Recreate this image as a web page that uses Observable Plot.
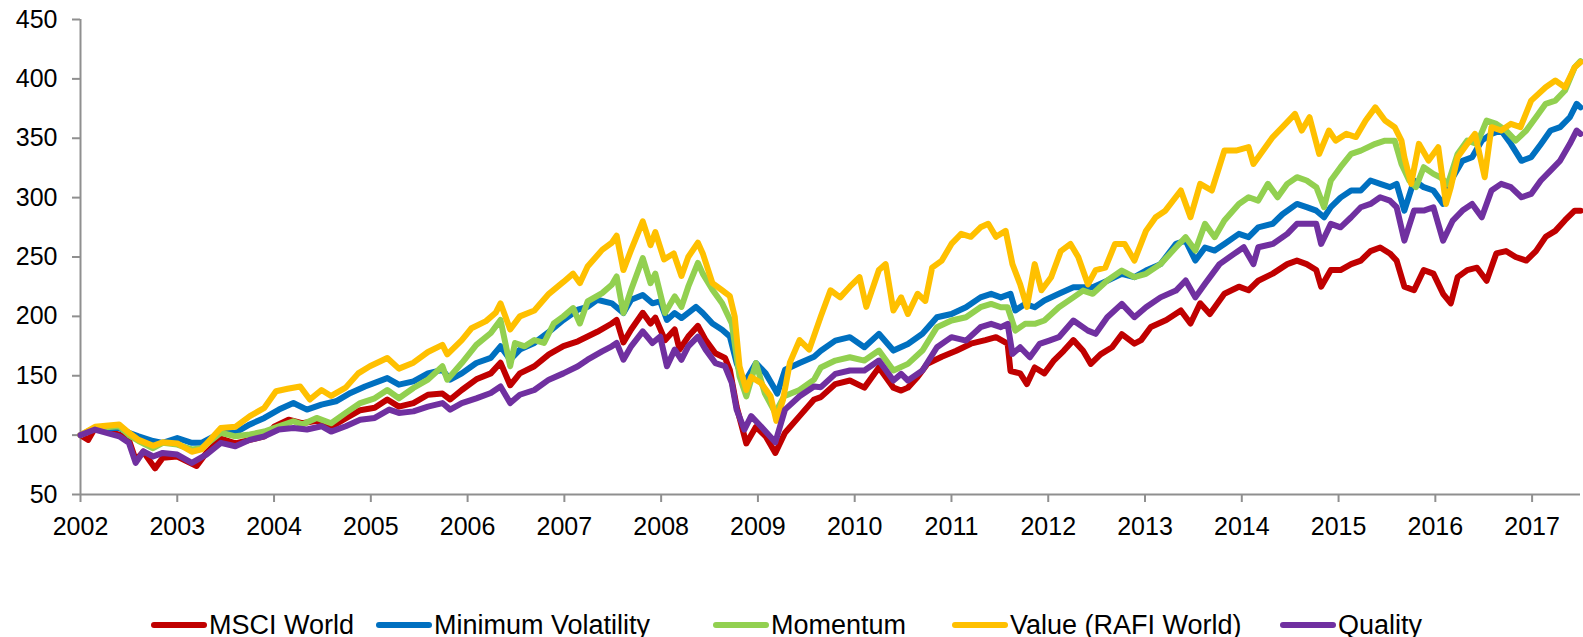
<!DOCTYPE html>
<html><head><meta charset="utf-8">
<script src="https://cdn.jsdelivr.net/npm/d3@7"></script>
<script src="https://cdn.jsdelivr.net/npm/@observablehq/plot@0.6"></script>
<style>
body{margin:0;background:#fff;font-family:"Liberation Sans",Arial,sans-serif;}
#chart svg{display:block}
#legend{position:relative;height:50px;width:1583px}
.item{position:absolute;top:0;display:flex;align-items:center;height:50px;font-size:27px;color:#000;white-space:nowrap}
.sw{width:56px;height:6px;border-radius:3px;margin-right:2px}
</style></head><body>
<div id="chart"></div><div id="legend"></div>
<script>
const seriesNames = ["MSCI World","Minimum Volatility","Momentum","Value (RAFI World)","Quality"];
const seriesColors = ["#C00000","#0070C0","#92D050","#FFC000","#7030A0"];
const yearTicks = [2002,2003,2004,2005,2006,2007,2008,2009,2010,2011,2012,2013,2014,2015,2016,2017];
const valueTicks = [50,100,150,200,250,300,350,400,450];

const msciWorld = [[2002.00,100],[2002.08,96],[2002.15,106],[2002.40,100.5],[2002.50,96],[2002.57,79],[2002.65,86],[2002.77,72],[2002.85,81],[2003.00,82],[2003.10,78],[2003.20,74],[2003.30,85],[2003.45,97],[2003.60,93],[2003.75,96],[2003.90,99],[2004.00,107],[2004.15,113],[2004.29,110],[2004.44,112],[2004.59,107],[2004.74,114],[2004.89,121],[2005.04,123],[2005.17,130],[2005.29,124],[2005.44,127],[2005.59,134],[2005.74,135],[2005.82,130],[2005.94,138],[2006.09,147],[2006.24,152],[2006.34,161],[2006.44,142],[2006.54,152],[2006.69,158],[2006.84,168],[2006.99,175],[2007.14,179],[2007.24,183],[2007.34,187],[2007.49,194],[2007.54,197],[2007.61,178],[2007.69,189],[2007.81,203],[2007.89,194],[2007.94,199],[2008.04,180],[2008.14,189],[2008.19,172],[2008.28,183],[2008.38,192],[2008.46,180],[2008.56,169],[2008.66,165],[2008.71,155],[2008.78,124],[2008.88,93],[2008.98,107],[2009.08,99],[2009.18,85],[2009.28,102],[2009.43,116],[2009.58,130],[2009.65,132],[2009.80,143],[2009.95,146],[2010.10,140],[2010.25,157],[2010.40,140],[2010.48,137.5],[2010.55,140],[2010.65,149],[2010.75,160],[2010.90,166],[2011.05,171],[2011.20,177],[2011.35,180],[2011.46,182.5],[2011.58,177],[2011.61,154],[2011.71,152],[2011.78,143],[2011.86,157],[2011.96,152],[2012.06,163],[2012.16,171],[2012.26,180],[2012.36,171],[2012.44,160],[2012.54,168],[2012.66,174],[2012.76,185],[2012.89,177],[2012.96,180],[2013.06,191],[2013.22,197],[2013.37,205],[2013.47,194],[2013.57,211],[2013.67,202],[2013.82,219],[2013.97,225],[2014.07,222],[2014.17,230],[2014.32,236],[2014.47,244],[2014.57,247],[2014.67,244],[2014.77,239],[2014.82,225],[2014.92,239],[2015.02,239],[2015.13,244],[2015.23,247],[2015.33,255],[2015.43,258],[2015.53,253],[2015.60,247],[2015.68,225],[2015.78,222],[2015.88,239],[2015.98,236],[2016.08,219],[2016.16,211],[2016.23,233],[2016.33,239],[2016.43,241],[2016.53,230],[2016.63,253],[2016.73,255],[2016.83,250],[2016.94,247],[2017.04,255],[2017.14,267],[2017.24,272],[2017.34,281],[2017.44,289],[2017.50,289]];

const minVolatility = [[2002.00,100],[2002.15,106],[2002.40,106],[2002.50,102],[2002.60,99],[2002.75,95],[2002.85,93.5],[2003.00,97.6],[2003.15,93.5],[2003.25,93.5],[2003.45,102],[2003.60,102],[2003.75,109],[2003.90,114.5],[2004.05,121.5],[2004.20,127],[2004.34,121.5],[2004.49,125.7],[2004.64,128.5],[2004.79,135.5],[2004.94,141],[2005.17,148],[2005.29,142.5],[2005.44,145.3],[2005.59,152],[2005.74,155],[2005.82,146.7],[2005.94,152],[2006.09,160.7],[2006.24,165],[2006.34,174.8],[2006.44,163.5],[2006.54,172],[2006.69,177.6],[2006.84,187],[2006.99,197],[2007.14,205.6],[2007.24,208],[2007.34,214],[2007.49,211],[2007.61,202.8],[2007.69,214],[2007.81,218],[2007.91,211],[2007.99,212.6],[2008.06,197],[2008.14,202.8],[2008.21,198.6],[2008.36,208],[2008.43,202.8],[2008.53,194],[2008.63,188.8],[2008.71,183],[2008.78,160.7],[2008.86,144],[2008.98,160.7],[2009.08,152],[2009.18,138],[2009.20,135],[2009.28,155],[2009.43,160.7],[2009.58,166],[2009.65,171],[2009.80,179.6],[2009.95,182.5],[2010.10,174],[2010.25,185.3],[2010.40,171.2],[2010.55,176.8],[2010.70,185.3],[2010.85,199.3],[2011.00,202],[2011.15,207.7],[2011.30,216],[2011.41,219],[2011.51,216],[2011.61,219],[2011.66,205],[2011.76,210.5],[2011.86,207.7],[2011.96,213.3],[2012.11,219],[2012.26,224.6],[2012.36,224.6],[2012.46,224.6],[2012.61,230],[2012.76,235.8],[2012.89,233],[2013.01,238.6],[2013.16,244],[2013.32,261],[2013.42,263.8],[2013.52,247],[2013.62,258],[2013.72,255.4],[2013.82,261],[2013.97,269.5],[2014.07,266.7],[2014.17,275],[2014.32,278],[2014.42,286],[2014.57,294.7],[2014.67,292],[2014.77,289],[2014.85,283.5],[2014.92,292],[2015.02,300],[2015.13,306],[2015.23,306],[2015.33,314.4],[2015.43,311.6],[2015.53,308.8],[2015.60,311.6],[2015.68,289],[2015.78,314.4],[2015.88,308.8],[2015.98,306],[2016.08,294.7],[2016.18,317],[2016.28,331],[2016.38,334],[2016.48,348],[2016.58,353.7],[2016.68,356.5],[2016.78,345.3],[2016.89,331],[2016.99,334],[2017.09,345],[2017.19,356.5],[2017.29,359.3],[2017.39,367.7],[2017.46,379],[2017.50,376]];

const momentum = [[2002.00,100],[2002.15,106],[2002.40,107.5],[2002.50,100],[2002.60,95],[2002.75,89],[2002.85,93.5],[2003.00,92],[2003.15,88],[2003.25,89],[2003.45,102],[2003.60,99],[2003.75,100.5],[2003.90,103],[2004.05,107.5],[2004.20,111.7],[2004.29,109],[2004.44,114.5],[2004.59,110],[2004.74,118.7],[2004.89,127],[2005.04,131],[2005.17,138],[2005.29,131],[2005.44,139.7],[2005.59,146.7],[2005.74,158],[2005.79,146.7],[2005.94,160.7],[2006.09,176],[2006.24,186],[2006.34,197],[2006.44,158],[2006.49,177.6],[2006.59,174.8],[2006.69,180],[2006.79,177.6],[2006.89,194],[2006.99,200],[2007.09,207],[2007.16,194],[2007.24,212.6],[2007.39,219.6],[2007.49,226.6],[2007.54,233.6],[2007.61,202.8],[2007.69,222.4],[2007.81,249],[2007.89,228],[2007.94,236],[2008.04,202.8],[2008.14,216.8],[2008.21,208],[2008.28,225],[2008.38,245],[2008.43,236],[2008.53,222.4],[2008.63,211],[2008.73,194],[2008.81,149.5],[2008.88,132.7],[2008.98,160.7],[2009.07,135.5],[2009.18,118.7],[2009.27,132.7],[2009.43,138],[2009.58,146.7],[2009.65,157],[2009.80,162.8],[2009.95,165.6],[2010.10,162.8],[2010.25,171.2],[2010.40,154.4],[2010.55,160],[2010.70,171.2],[2010.85,190.9],[2011.00,196.5],[2011.15,199.3],[2011.30,207.7],[2011.41,210.5],[2011.51,207.7],[2011.58,207.7],[2011.66,188],[2011.76,193.7],[2011.86,193.7],[2011.96,196.5],[2012.11,207.7],[2012.26,216],[2012.36,221.7],[2012.46,219],[2012.61,230.2],[2012.76,238.6],[2012.89,233],[2013.01,235.8],[2013.16,244],[2013.32,258.2],[2013.42,266.7],[2013.52,255.4],[2013.62,277.9],[2013.72,266.7],[2013.82,280.7],[2013.97,294.7],[2014.07,300.3],[2014.17,297.5],[2014.27,311.6],[2014.37,300.3],[2014.47,311.6],[2014.57,317.2],[2014.67,314.4],[2014.77,308.8],[2014.85,292],[2014.92,314.4],[2015.02,325.6],[2015.13,336.8],[2015.23,339.6],[2015.38,345.3],[2015.48,348],[2015.58,348],[2015.65,328.4],[2015.73,314.4],[2015.80,308.8],[2015.88,325.6],[2015.98,320],[2016.05,317.2],[2016.13,311.6],[2016.23,336.8],[2016.33,348],[2016.43,345.3],[2016.53,364.9],[2016.63,362.1],[2016.73,356.5],[2016.83,348],[2016.94,356.5],[2017.04,367.7],[2017.14,379],[2017.24,381.7],[2017.34,390.2],[2017.44,409.8],[2017.50,415]];

const valueRafi = [[2002.00,100],[2002.15,107],[2002.40,109],[2002.50,102],[2002.60,96],[2002.75,91],[2002.85,94],[2003.00,93],[2003.15,86],[2003.25,88],[2003.45,106],[2003.60,107],[2003.75,116],[2003.90,123],[2004.02,137],[2004.14,139],[2004.27,141],[2004.37,130],[2004.49,138],[2004.59,133],[2004.74,140],[2004.87,152],[2004.99,158],[2005.17,165],[2005.29,156],[2005.44,161],[2005.59,170],[2005.74,176],[2005.79,168],[2005.94,180],[2006.04,190],[2006.19,196],[2006.29,203],[2006.34,211],[2006.44,189],[2006.54,200],[2006.69,205],[2006.84,219],[2006.99,229],[2007.09,236],[2007.16,228],[2007.24,242],[2007.39,256],[2007.49,262],[2007.54,268],[2007.61,239],[2007.69,256],[2007.81,280],[2007.89,260],[2007.94,271],[2008.03,248],[2008.13,253],[2008.21,234],[2008.28,250],[2008.38,262],[2008.43,253],[2008.53,228],[2008.63,222],[2008.71,217],[2008.76,200],[2008.81,158],[2008.88,138],[2008.93,149],[2009.03,144],[2009.13,133],[2009.19,112],[2009.26,130],[2009.33,161],[2009.43,180],[2009.53,172],[2009.65,200],[2009.75,222],[2009.85,216],[2009.95,225],[2010.05,233],[2010.12,208],[2010.25,239],[2010.32,244],[2010.40,205],[2010.48,216],[2010.55,202],[2010.65,219],[2010.73,213],[2010.80,241],[2010.90,247],[2011.00,261],[2011.10,269.5],[2011.20,267],[2011.30,275],[2011.38,278],[2011.46,267],[2011.56,272],[2011.63,244],[2011.71,227],[2011.78,208],[2011.86,244],[2011.93,222],[2012.03,233],[2012.13,255],[2012.23,261],[2012.31,250],[2012.41,227],[2012.49,239],[2012.59,241],[2012.69,261],[2012.79,261],[2012.89,247],[2013.01,272],[2013.11,283.5],[2013.21,289],[2013.37,306],[2013.47,283.5],[2013.57,311.6],[2013.69,306],[2013.82,339.6],[2013.94,339.6],[2014.07,342.5],[2014.12,328.4],[2014.22,339.6],[2014.32,351],[2014.42,359.3],[2014.55,370.5],[2014.62,356.5],[2014.70,367.7],[2014.80,336.8],[2014.90,356.5],[2014.97,348],[2015.08,353.7],[2015.18,351],[2015.28,365],[2015.38,376],[2015.48,365],[2015.58,359.3],[2015.65,348],[2015.68,334],[2015.75,311.6],[2015.83,345.3],[2015.93,331.2],[2016.03,342.5],[2016.11,294.7],[2016.16,308.8],[2016.23,334],[2016.33,345.3],[2016.41,353.7],[2016.51,317.2],[2016.58,359.3],[2016.68,356.5],[2016.78,362.1],[2016.88,359.3],[2016.99,381.7],[2017.14,393],[2017.24,398.6],[2017.34,393],[2017.44,409.8],[2017.50,414]];

const quality = [[2002.00,100],[2002.15,104.7],[2002.40,99],[2002.50,93.5],[2002.57,76.6],[2002.65,86.4],[2002.75,82],[2002.85,85],[2003.00,83.6],[2003.15,76.6],[2003.30,83.6],[2003.45,93.5],[2003.60,90.6],[2003.75,96],[2003.90,99],[2004.05,104.7],[2004.20,106],[2004.34,104.7],[2004.49,107.5],[2004.59,103],[2004.74,107.5],[2004.89,113],[2005.04,114.5],[2005.19,121.5],[2005.29,118.7],[2005.44,120],[2005.59,124],[2005.74,127],[2005.82,121.5],[2005.94,127],[2006.09,131],[2006.24,135.5],[2006.34,141],[2006.44,127],[2006.54,134],[2006.69,138],[2006.84,146.7],[2006.99,152],[2007.14,158],[2007.24,163.5],[2007.39,170.5],[2007.49,174.8],[2007.54,177.6],[2007.61,163.5],[2007.69,174.8],[2007.81,187.4],[2007.91,177.6],[2007.99,183],[2008.06,158],[2008.14,172],[2008.21,163.5],[2008.28,174.8],[2008.38,183],[2008.46,172],[2008.56,160.7],[2008.66,158],[2008.73,144],[2008.78,121.5],[2008.86,104.7],[2008.93,116],[2009.03,107.5],[2009.18,94],[2009.28,121.5],[2009.43,132.7],[2009.58,141],[2009.65,140.4],[2009.80,151.6],[2009.95,154.4],[2010.10,154.4],[2010.25,162.8],[2010.40,146],[2010.48,151.6],[2010.55,146],[2010.70,154.4],[2010.85,174],[2011.00,182.5],[2011.15,179.6],[2011.30,190.9],[2011.41,193.7],[2011.51,190.9],[2011.58,193.7],[2011.63,168.4],[2011.71,174],[2011.81,165.6],[2011.91,176.8],[2012.01,179.6],[2012.11,182.5],[2012.26,196.5],[2012.41,188],[2012.49,185.3],[2012.61,199.3],[2012.76,210.5],[2012.89,199.3],[2013.01,207.7],[2013.16,216],[2013.32,221.7],[2013.42,230.2],[2013.52,216],[2013.62,227.4],[2013.77,244],[2013.92,252.6],[2014.02,258.2],[2014.12,244],[2014.17,258.2],[2014.32,261],[2014.47,269.5],[2014.57,277.9],[2014.67,277.9],[2014.77,277.9],[2014.82,261],[2014.92,277.9],[2015.02,275],[2015.13,283.5],[2015.23,291.9],[2015.33,294.7],[2015.43,300.3],[2015.53,297.5],[2015.60,291.9],[2015.68,263.8],[2015.78,289.1],[2015.88,289.1],[2015.98,291.9],[2016.08,263.8],[2016.18,280.7],[2016.28,289.1],[2016.38,294.7],[2016.48,283.5],[2016.58,306],[2016.68,311.6],[2016.78,308.8],[2016.89,300.3],[2016.99,303.1],[2017.09,314.4],[2017.19,322.8],[2017.29,331.2],[2017.39,345.3],[2017.46,356.5],[2017.50,353.7]];

const seriesData = [msciWorld, minVolatility, momentum, valueRafi, quality];
const rows = [];
seriesData.forEach((arr, i) => arr.forEach(([date, value]) => rows.push({series: seriesNames[i], date, value})));

const font = '"Liberation Sans", Arial, sans-serif';
const axisColor = "#8f8f8f";
const chart = Plot.plot({
  width: 1583, height: 600,
  marginLeft: 80, marginRight: 3, marginTop: 19, marginBottom: 106,
  style: {fontFamily: font, fontSize: "25px", color: "#000", background: "#fff", overflow: "visible"},
  x: {type: "linear", domain: [2002, 2017.5]},
  y: {type: "linear", domain: [50, 450]},
  color: {domain: seriesNames, range: seriesColors},
  marks: [
    Plot.axisX({ticks: yearTicks, tickFormat: d => String(d), tickSize: 8, tickPadding: 15, stroke: axisColor, strokeWidth: 2, fill: "#000", fontSize: 25, label: null}),
    Plot.axisY({ticks: valueTicks, tickFormat: d => String(d), tickSize: 8, tickPadding: 15, stroke: axisColor, strokeWidth: 2, fill: "#000", fontSize: 25, label: null}),
    Plot.ruleX([2002], {stroke: axisColor, strokeWidth: 2}),
    Plot.ruleY([50], {stroke: axisColor, strokeWidth: 2}),
    Plot.line(rows, {x: "date", y: "value", z: "series", stroke: "series", strokeWidth: 6, strokeLinejoin: "round", strokeLinecap: "round"})
  ]
});
document.getElementById("chart").append(chart);

const legendX = [151, 376, 713, 952, 1280];
const legend = document.getElementById("legend");
seriesNames.forEach((name, i) => {
  const item = document.createElement("div");
  item.className = "item";
  item.style.left = legendX[i] + "px";
  const sw = document.createElement("span");
  sw.className = "sw";
  sw.style.background = seriesColors[i];
  const tx = document.createElement("span");
  tx.textContent = name;
  item.append(sw, tx);
  legend.append(item);
});
</script>
</body></html>
